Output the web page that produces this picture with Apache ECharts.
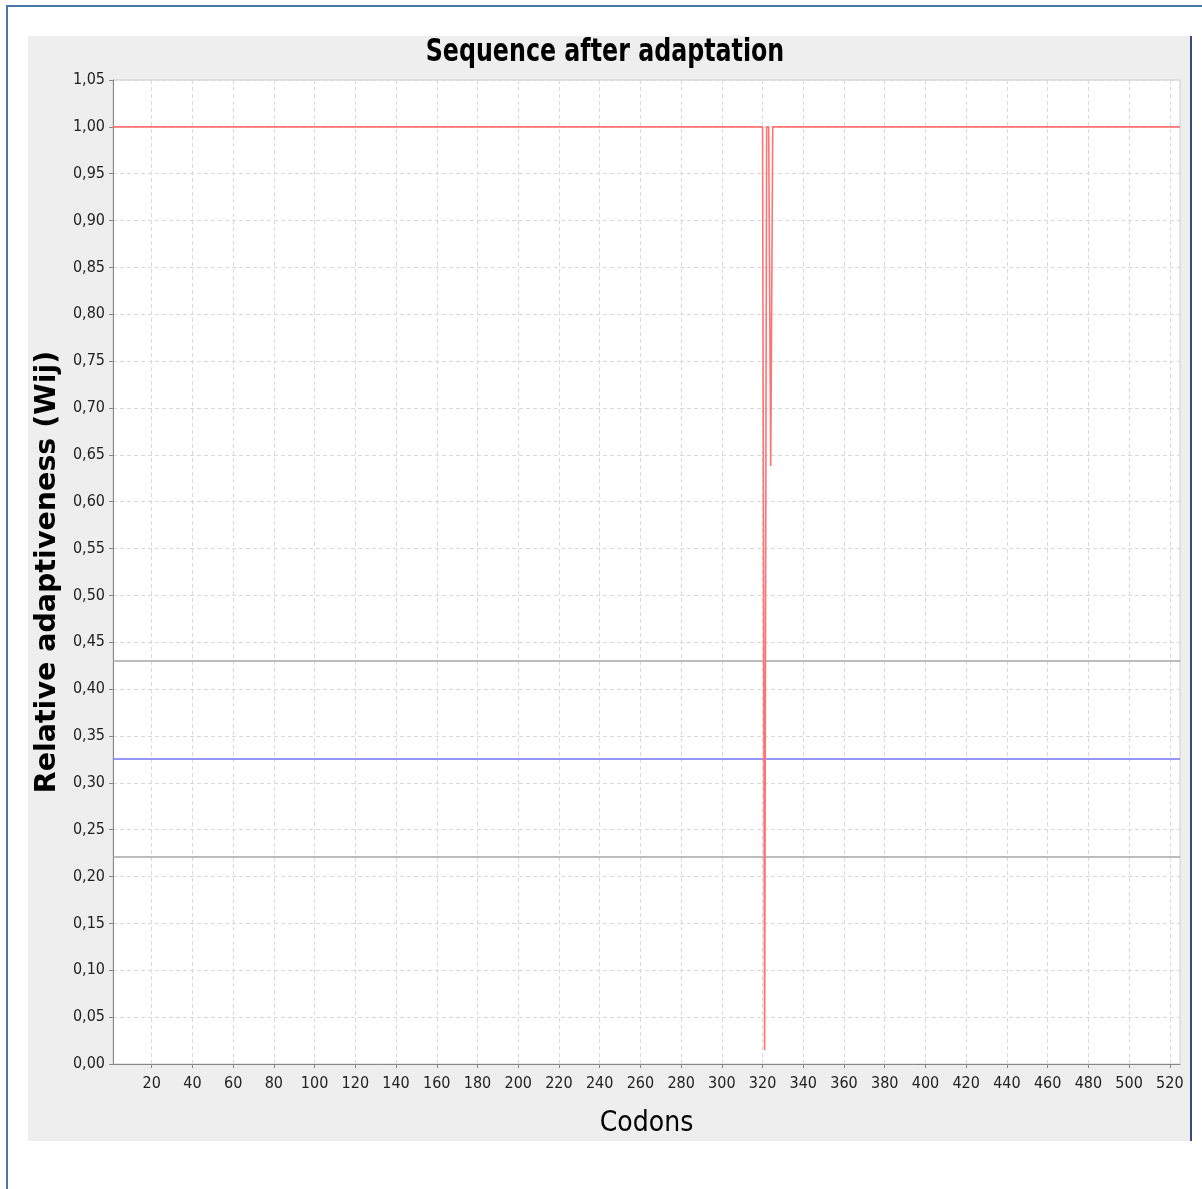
<!DOCTYPE html>
<html>
<head>
<meta charset="utf-8">
<script src="https://cdn.jsdelivr.net/npm/echarts@6/dist/echarts.min.js"></script>
<style>
html,body{margin:0;padding:0;background:#fff;}
#c{width:1202px;height:1189px;}
</style>
</head>
<body>
<div id="c"></div>
<script>
// Data (codon, relative adaptiveness). All unlisted codons lie on the 1.00 line.
const codonPoints = [1, 320, 321, 322, 323, 324, 325, 525];
const wijValues   = [1.0, 1.0, 0.015, 1.0, 1.0, 0.638, 1.0, 1.0];
// Reference lines
const lineRange = [1, 525];
const meanValue  = 0.3255;
const upperValue = 0.430;
const lowerValue = 0.221;
// Axis ticks
const xTickValues = [20,40,60,80,100,120,140,160,180,200,220,240,260,280,300,320,340,360,380,400,420,440,460,480,500,520];
const yMin = 0, yMax = 1.05, yStep = 0.05;
const titleText = 'Sequence after adaptation';
const xName = 'Codons';
const yName = 'Relative adaptiveness (Wij)';

const chart = echarts.init(document.getElementById('c'), null, {renderer: 'canvas'});
const seriesData = codonPoints.map((c, i) => [c, wijValues[i]]);
const hLine = v => lineRange.map(x => [x, v]);

const condFont = "'DejaVu Sans Condensed', 'DejaVu Sans', sans-serif";

chart.setOption({
  backgroundColor: '#ffffff',
  animation: false,
  graphic: [
    {type: 'rect', z: -10, shape: {x: 28, y: 36, width: 1162, height: 1105}, style: {fill: '#eeeeee'}},
    {type: 'line', z: 100, shape: {x1: 1191, y1: 36, x2: 1191, y2: 1141}, style: {stroke: '#3c4a78', lineWidth: 2}},
    {type: 'line', z: 100, shape: {x1: 6, y1: 6, x2: 1202, y2: 6}, style: {stroke: '#4a76a8', lineWidth: 2}},
    {type: 'line', z: 100, shape: {x1: 7, y1: 6, x2: 7, y2: 1189}, style: {stroke: '#4a76a8', lineWidth: 2}},
    {type: 'text', z: 100, x: 605, y: 53, scaleX: 0.825,
     style: {text: titleText, font: "bold 32px 'DejaVu Sans Condensed', 'DejaVu Sans', sans-serif",
             fill: '#000', textAlign: 'center', textVerticalAlign: 'middle'}}
  ],
  grid: {
    left: 113, top: 80, width: 1067, height: 984,
    show: true, backgroundColor: '#ffffff', borderColor: '#cccccc', borderWidth: 1
  },
  xAxis: {
    type: 'value', min: lineRange[0], max: lineRange[1],
    name: xName, nameLocation: 'middle', nameGap: 46,
    nameTextStyle: {fontFamily: condFont, fontSize: 28, color: '#000'},
    axisLine: {show: true, onZero: false, lineStyle: {color: '#888888', width: 1}},
    axisTick: {show: true, length: 4, customValues: xTickValues, lineStyle: {color: '#888888'}},
    axisLabel: {customValues: xTickValues, margin: 12, fontFamily: condFont, fontSize: 16, color: '#222'},
    splitLine: {show: true, lineStyle: {color: '#d9d9d9', type: [4, 3], width: 1}}
  },
  yAxis: {
    type: 'value', min: yMin, max: yMax, interval: yStep,
    name: yName, nameLocation: 'middle', nameGap: 46,
    nameTextStyle: {fontFamily: 'DejaVu Sans', fontWeight: 'bold', fontSize: 28.5, color: '#000'},
    axisLine: {show: true, lineStyle: {color: '#888888', width: 1}},
    axisTick: {show: true, length: 4, lineStyle: {color: '#888888'}},
    axisLabel: {margin: 8, fontFamily: condFont, fontSize: 16, color: '#222',
      formatter: v => v.toFixed(2).replace('.', ',')},
    splitLine: {show: true, lineStyle: {color: '#d9d9d9', type: [4, 3], width: 1}}
  },
  series: [
    {type: 'line', name: 'upper', data: hLine(upperValue), symbol: 'none', silent: true,
     lineStyle: {color: '#a6a6a6', width: 1.5}},
    {type: 'line', name: 'lower', data: hLine(lowerValue), symbol: 'none', silent: true,
     lineStyle: {color: '#a6a6a6', width: 1.5}},
    {type: 'line', name: 'mean', data: hLine(meanValue), symbol: 'none', silent: true,
     lineStyle: {color: '#7373ff', width: 1.5}},
    {type: 'line', name: 'Wij', data: seriesData, symbol: 'none', silent: true,
     lineStyle: {color: '#ff7373', width: 1.6}}
  ]
});
</script>
</body>
</html>
